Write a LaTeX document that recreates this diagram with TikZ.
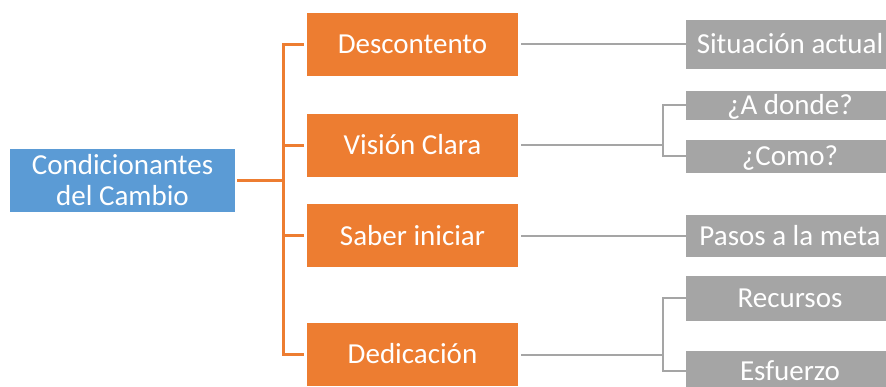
\documentclass[tikz,border=0pt]{standalone}
\usepackage{fontspec}
\setmainfont{Carlito}
\usetikzlibrary{positioning}
\definecolor{rootblue}{HTML}{5B9BD5}
\definecolor{condorange}{HTML}{ED7D31}
\definecolor{itemgrey}{HTML}{A5A5A5}
\tikzstyle{rootbox} = [
    rectangle,
    fill=rootblue,
    text=white,
    minimum width=225pt,
    minimum height=63pt,
    inner sep=0pt,
    align=center,
    font=\fontsize{29}{31}\selectfont
]
\tikzstyle{condbox} = [
    rectangle,
    fill=condorange,
    text=white,
    minimum width=211pt,
    minimum height=63pt,
    inner sep=0pt,
    text height=21pt,
    text depth=2.5pt,
    font=\fontsize{29}{31}\selectfont
]
\tikzstyle{itembox} = [
    rectangle,
    fill=itemgrey,
    text=white,
    minimum width=208pt,
    inner sep=0pt,
    text height=21pt,
    text depth=2.5pt,
    font=\fontsize{29}{31}\selectfont
]
\tikzstyle{orangeline} = [draw=condorange, line width=3pt]
\tikzstyle{greyline} = [draw=itemgrey, line width=2pt]

\begin{document}
\begin{tikzpicture}[x=1pt, y=-1pt]

\useasboundingbox (0,0) rectangle (886,387);
\clip (0,0) rectangle (886,387);

\node (root) [rootbox] at (122.5,180.5) {Condicionantes\\del Cambio};

\node (desc) [condbox] at (412.5,44.5) {Descontento};
\node (vision) [condbox] at (412.5,145.5) {Visión Clara};
\node (saber) [condbox] at (412.5,236) {Saber iniciar};
\node (dedic) [condbox] at (412.5,354.5) {Dedicación};

\node (sit) [itembox, minimum height=49pt] at (790,44.5) {Situación actual};
\node (donde) [itembox, minimum height=29pt] at (790,105.5) {¿A donde?};
\node (como) [itembox, minimum height=33pt] at (790,156.5) {¿Como?};
\node (pasos) [itembox, minimum height=42pt] at (790,236) {Pasos a la meta};
\node (recur) [itembox, minimum height=45pt] at (790,298.5) {Recursos};
\node (esfu) [itembox, minimum height=40pt] at (790,371) {Esfuerzo};

\coordinate (bus) at (283,180.5);
\coordinate (vsplit) at (663,145.5);
\coordinate (dsplit) at (663,354.5);

\draw [orangeline, shorten <=2pt] (root.east) -- (bus);
\foreach \c in {desc,vision,saber,dedic}
    \draw [orangeline, shorten >=3pt] (bus) |- (\c.west);

\draw [greyline, shorten <=3pt] (desc.east) -- (sit.west);
\draw [greyline, shorten <=3pt] (saber.east) -- (pasos.west);
\draw [greyline, shorten <=3pt] (vision.east) -- (vsplit);
\draw [greyline] (vsplit) |- (donde.west);
\draw [greyline] (vsplit) |- (como.west);
\draw [greyline, shorten <=3pt] (dedic.east) -- (dsplit);
\draw [greyline] (dsplit) |- (recur.west);
\draw [greyline] (dsplit) |- (esfu.west);

\end{tikzpicture}
\end{document}
